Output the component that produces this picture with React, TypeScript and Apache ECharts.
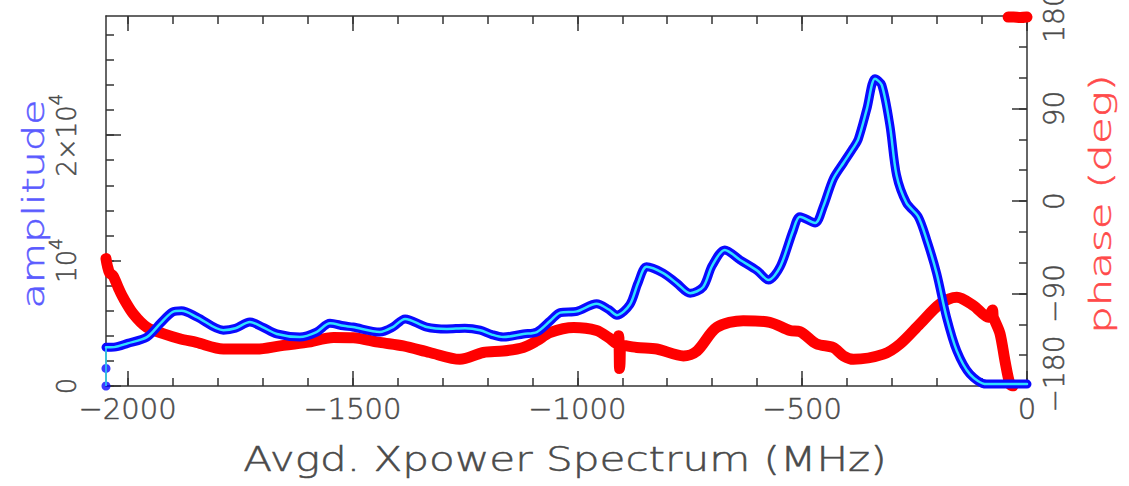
import React, { useEffect, useRef } from "react";
import * as echarts from "echarts";

// Cross-power spectrum: amplitude (left axis) and phase (right axis) vs frequency
const ampFreq = [
  -2048, -2030, -2000, -1957, -1927, -1900, -1880, -1846, -1787, -1760, -1728, -1700,
  -1668, -1617, -1580, -1550, -1520, -1499, -1439, -1410, -1383, -1335, -1290, -1250,
  -1216, -1190, -1165, -1120, -1090, -1060, -1038, -1001, -957, -930, -912, -883, -865,
  -846, -809, -779, -749, -720, -700, -672, -638, -600, -575, -549, -520, -505, -471,
  -453, -431, -408, -386, -375, -356, -338, -323, -305, -290, -268, -242, -223, -201,
  -179, -156, -127, -90, -40, 0,
];
const ampValues = [
  3080, 3100, 3400, 3900, 5000, 5900, 6000, 5500, 4450, 4600, 5100, 4700,
  4150, 3900, 4300, 5000, 4800, 4700, 4300, 4700, 5350, 4700, 4550, 4600,
  4450, 4100, 3900, 4150, 4300, 5200, 5850, 5950, 6550, 6100, 5650, 6500, 8200,
  9500, 9000, 8200, 7400, 7900, 9600, 10850, 10050, 9200, 8450, 9500, 12400, 13500, 13000,
  14300, 16500, 17800, 19000, 19700, 22100, 24500, 24000, 20800, 16800, 14600, 13500, 11650, 9000,
  5500, 2800, 950, 150, 150, 150,
];
// isolated first channels at the band edge
const ampEdgeFreq = [-2048, -2048];
const ampEdgeValues = [0, 1400];

const phaseFreq = [
  -2048, -2045, -2040, -2032, -2020, -2010, -1987, -1957, -1921, -1884, -1847, -1787,
  -1713, -1661, -1602, -1542, -1498, -1439, -1387, -1328, -1261, -1209, -1165, -1120,
  -1090, -1061, -1008, -957, -930, -912, -908, -906, -905, -903, -868, -823, -764, -734,
  -690, -631, -572, -527, -505, -468, -431, -408, -386, -319, -282, -238, -193, -156,
  -119, -86, -77, -75, -72, -60, -49, -38, -31,
];
const phaseValues = [
  -56, -63, -70, -73, -85, -94, -110, -123, -129, -134, -137.6, -144,
  -144, -141, -137.6, -132.7, -133, -137.6, -141, -147.4, -154, -147.4, -146, -142.5,
  -136, -128, -123, -126, -133, -139, -131, -163, -158, -140, -142.5, -144, -150.7, -146,
  -123, -116.4, -118, -126, -127, -139, -142.5, -150.7, -154, -149, -139, -119.6, -100, -93.6,
  -101.7, -113, -106, -113, -116, -129, -155.5, -178, -180,
];
// phase wrapped to +180 near zero frequency
const phaseWrapFreq = [-42, -30, -15, 0];
const phaseWrapValues = [179, 179, 178.5, 179];

const freqMajorTicks = [-2000, -1500, -1000, -500, 0];
const freqMinorTicks = [
  -2000, -1900, -1800, -1700, -1600, -1500, -1400, -1300, -1200, -1100, -1000,
  -900, -800, -700, -600, -500, -400, -300, -200, -100, 0,
];
const ampMajorTicks = [0, 10000, 20000];
const ampMinorTicks = [0, 2000, 4000, 6000, 8000, 10000, 12000, 14000, 16000, 18000, 20000, 22000, 24000, 26000, 28000];
const phaseMajorTicks = [-180, -90, 0, 90, 180];
const phaseMinorTicks = [-180, -150, -120, -90, -60, -30, 0, 30, 60, 90, 120, 150, 180];

const FONT = "'DejaVu Sans', sans-serif";
const WEIGHT = 200;
const AXIS_COLOR = "#333";
const TEXT_COLOR = "#4a4a4a";

const pairs = (xs: number[], ys: number[]) => xs.map((x, i) => [x, ys[i]]);
const minus = (v: number) => (v < 0 ? "\u2212" + Math.abs(v) : String(v));

export default function App() {
  const ref = useRef<HTMLDivElement>(null);

  useEffect(() => {
    if (!ref.current) return;
    const chart = echarts.init(ref.current, undefined, { renderer: "svg" });

    const xBase = {
      type: "value" as const,
      min: -2048,
      max: 0,
      splitLine: { show: false },
    };
    const ampBase = { type: "value" as const, min: 0, max: 29500, splitLine: { show: false } };
    const phaseBase = { type: "value" as const, min: -180, max: 180, splitLine: { show: false } };
    const line = { show: true, onZero: false, lineStyle: { color: AXIS_COLOR, width: 1.5 } };
    const noLine = { show: false, onZero: false };
    const tick = (values: number[], length: number) => ({
      show: true,
      inside: true,
      length,
      customValues: values,
      lineStyle: { color: AXIS_COLOR, width: 1.5 },
    });
    const noLabel = { show: false };
    // thin strokes, slightly thickened with a same-colour outline
    const labelText = {
      fontWeight: WEIGHT,
      color: TEXT_COLOR,
      fontFamily: FONT,
      textBorderColor: TEXT_COLOR,
      textBorderWidth: 0.5,
    };

    const edge = pairs(ampEdgeFreq, ampEdgeValues);
    const amp = pairs(ampFreq, ampValues);
    const phase = [
      ...pairs(phaseFreq, phaseValues),
      [null, null],
      ...pairs(phaseWrapFreq, phaseWrapValues),
    ];

    chart.setOption({
      animation: false,
      backgroundColor: "#fff",
      grid: {
        left: 106,
        right: 102,
        top: 16,
        bottom: 100,
        containLabel: false,
        outerBoundsMode: "none",
      },
      xAxis: [
        {
          ...xBase,
          position: "bottom",
          axisLine: line,
          axisTick: tick(freqMajorTicks, 15),
          axisLabel: {
            customValues: freqMajorTicks,
            formatter: (v: number) => minus(v),
            fontSize: 29,
            ...labelText,
            margin: 8,
          },
        },
        { ...xBase, position: "bottom", axisLine: noLine, axisTick: tick(freqMinorTicks, 8), axisLabel: noLabel },
        { ...xBase, position: "top", axisLine: line, axisTick: tick(freqMajorTicks, 15), axisLabel: noLabel },
        { ...xBase, position: "top", axisLine: noLine, axisTick: tick(freqMinorTicks, 8), axisLabel: noLabel },
      ],
      yAxis: [
        {
          ...ampBase,
          position: "left",
          axisLine: line,
          axisTick: tick(ampMajorTicks, 15),
          axisLabel: {
            customValues: ampMajorTicks,
            rotate: 90,
            margin: 26,
            formatter: (v: number) =>
              v === 0 ? "{b|0}" : v === 10000 ? "{b|10}{s|4}" : "{b|" + v / 10000 + "\u00d710}{s|4}",
            rich: {
              b: { fontSize: 26, ...labelText, lineHeight: 34, verticalAlign: "bottom" },
              s: { fontSize: 18, ...labelText, lineHeight: 18, verticalAlign: "top" },
            },
          },
        },
        { ...ampBase, position: "left", offset: 0, axisLine: noLine, axisTick: tick(ampMinorTicks, 8), axisLabel: noLabel },
        {
          ...phaseBase,
          position: "right",
          axisLine: line,
          axisTick: tick(phaseMajorTicks, 15),
          axisLabel: {
            customValues: phaseMajorTicks,
            rotate: 90,
            margin: 13,
            formatter: (v: number) => (v === -180 ? "{low|" + minus(v) + "}" : "{n|" + minus(v) + "}"),
            rich: {
              n: { fontSize: 28, ...labelText },
              low: { fontSize: 28, ...labelText, padding: [0, 0, 0, 24] },
            },
          },
        },
        { ...phaseBase, position: "right", offset: 0, axisLine: noLine, axisTick: tick(phaseMinorTicks, 8), axisLabel: noLabel },
      ],
      graphic: [
        {
          type: "text",
          x: 34,
          y: 204,
          rotation: Math.PI / 2,
          scaleX: 1.38,
          style: {
            text: "amplitude",
            font: `${WEIGHT} 30px ${FONT}`,
            fill: "#5a5aff",
            stroke: "#5a5aff",
            lineWidth: 0.5,
            align: "center",
            verticalAlign: "middle",
          },
        },
        {
          type: "text",
          x: 1101,
          y: 204,
          rotation: Math.PI / 2,
          scaleX: 1.45,
          style: {
            text: "phase (deg)",
            font: `${WEIGHT} 30px ${FONT}`,
            fill: "#ff4a4a",
            stroke: "#ff4a4a",
            lineWidth: 0.5,
            align: "center",
            verticalAlign: "middle",
          },
        },
        {
          type: "text",
          x: 565,
          y: 459,
          scaleX: 1.24,
          style: {
            text: "Avgd. Xpower Spectrum (MHz)",
            font: `${WEIGHT} 34px ${FONT}`,
            fill: TEXT_COLOR,
            stroke: TEXT_COLOR,
            lineWidth: 0.5,
            align: "center",
            verticalAlign: "middle",
          },
        },
      ],
      series: [
        {
          name: "phase",
          type: "line",
          xAxisIndex: 0,
          yAxisIndex: 2,
          data: phase,
          showSymbol: false,
          smooth: 0.3,
          connectNulls: false,
          lineStyle: { color: "#ff0000", width: 11, cap: "round", join: "round" },
          z: 2,
        },
        {
          name: "amplitude",
          type: "line",
          xAxisIndex: 0,
          yAxisIndex: 0,
          data: amp,
          showSymbol: false,
          smooth: 0.3,
          lineStyle: { color: "#0a0aff", width: 9, cap: "round", join: "round" },
          z: 3,
        },
        {
          name: "amplitude edge",
          type: "scatter",
          xAxisIndex: 0,
          yAxisIndex: 0,
          data: edge,
          symbolSize: 9,
          itemStyle: { color: "#0a0aff" },
          z: 3,
        },
        {
          name: "amplitude edge link",
          type: "line",
          xAxisIndex: 0,
          yAxisIndex: 0,
          data: [...edge, amp[0]],
          showSymbol: false,
          lineStyle: { color: "#30e0ff", width: 1.5 },
          z: 4,
        },
        {
          name: "amplitude core",
          type: "line",
          xAxisIndex: 0,
          yAxisIndex: 0,
          data: amp,
          showSymbol: false,
          smooth: 0.3,
          lineStyle: { color: "#30e0ff", width: 2.5, cap: "round", join: "round" },
          z: 4,
        },
      ],
    });

    return () => chart.dispose();
  }, []);

  return (
    <div
      ref={ref}
      style={{ position: "absolute", left: 0, top: 0, width: 1129, height: 486 }}
    />
  );
}
